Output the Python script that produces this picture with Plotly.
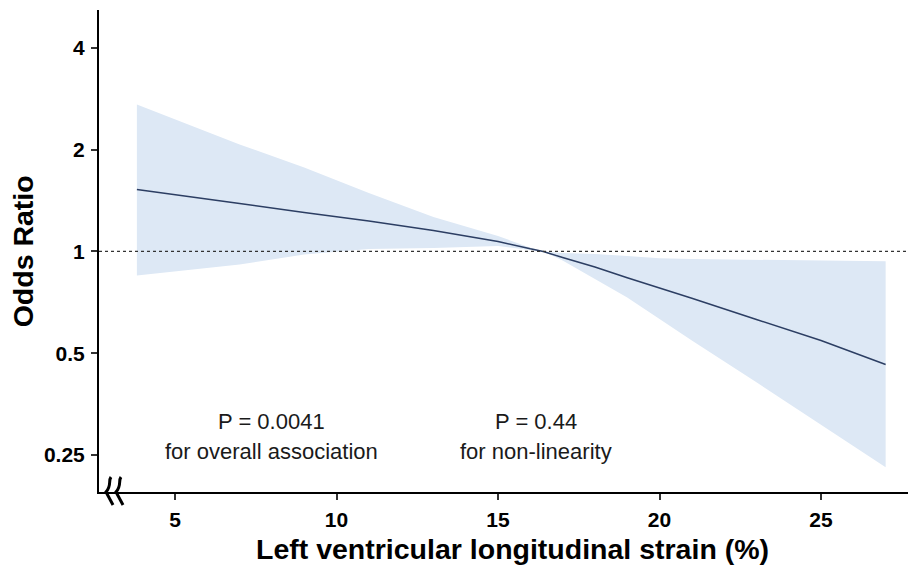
import plotly.graph_objects as go

# Data (restricted cubic spline, OR with 95% CI)
strain = [3.82, 5, 7, 9, 11, 13, 15, 16, 16.4, 17, 18, 19, 20, 21, 23, 25, 27.0]
or_est = [1.525, 1.474, 1.387, 1.304, 1.231, 1.154, 1.070, 1.018, 1.0, 0.959, 0.899, 0.836, 0.780, 0.727, 0.629, 0.545, 0.463]
or_upper = [2.722, 2.461, 2.073, 1.772, 1.490, 1.265, 1.111, 1.025, 1.0, 0.990, 0.983, 0.970, 0.955, 0.949, 0.945, 0.941, 0.936]
or_lower = [0.849, 0.873, 0.915, 0.980, 1.017, 1.024, 1.038, 1.010, 1.0, 0.940, 0.828, 0.731, 0.631, 0.545, 0.410, 0.308, 0.230]

y_ticks = [0.25, 0.5, 1, 2, 4]
y_ticktext = ["0.25", "0.5", "1", "2", "4"]
x_ticks = [5, 10, 15, 20, 25]
x_ticktext = ["5", "10", "15", "20", "25"]

x_title = "Left ventricular longitudinal strain (%)"
y_title = "Odds Ratio"
p_texts = [("P = 0.0041", "for overall association", 8.0),
           ("P = 0.44", "for non-linearity", 16.18)]

FONT = "Liberation Sans, Arial, sans-serif"

fig = go.Figure()

fig.add_trace(go.Scatter(x=strain, y=or_upper, mode="lines", line=dict(width=0),
                         hoverinfo="skip", showlegend=False))
fig.add_trace(go.Scatter(x=strain, y=or_lower, mode="lines", line=dict(width=0),
                         fill="tonexty", fillcolor="rgb(221,232,245)",
                         hoverinfo="skip", showlegend=False))
fig.add_trace(go.Scatter(x=strain, y=or_est, mode="lines",
                         line=dict(color="#2c3e63", width=1.5), showlegend=False))

fig.add_hline(y=1, line=dict(color="#333333", width=1.2, dash="dot"))

font_ann = dict(family=FONT, size=22, color="#1a1a1a")
for top, bottom, xpos in p_texts:
    fig.add_annotation(x=xpos, y=-0.5044, xref="x", yref="y", text=top, showarrow=False,
                       font=font_ann, xanchor="center", yanchor="middle")
    fig.add_annotation(x=xpos, y=-0.5932, xref="x", yref="y", text=bottom, showarrow=False,
                       font=font_ann, xanchor="center", yanchor="middle")

# axis titles
titlefont = dict(family=FONT, size=28.5, color="black")
fig.add_annotation(x=0.5067, y=-0.1183, xref="paper", yref="paper",
                   text="<b>%s</b>" % x_title, showarrow=False, font=titlefont,
                   xanchor="center", yanchor="middle")
fig.add_annotation(x=-0.0920, y=0.499, xref="paper", yref="paper",
                   text="<b>%s</b>" % y_title, showarrow=False, font=titlefont,
                   textangle=-90, xanchor="center", yanchor="middle", borderpad=0)

# axis break symbol (pixel positions relative to the plot area)
def px2p(px, py):
    return (px - 99) / 817.0, (492 - py) / 482.0

for off in (0, 10):
    pts = [px2p(111 + off, 477), px2p(108 + off, 481), px2p(112 + off, 485),
           px2p(106 + off, 492), px2p(113 + off, 505)]
    path = "M {0[0]},{0[1]} C {1[0]},{1[1]} {2[0]},{2[1]} {3[0]},{3[1]} L {4[0]},{4[1]}".format(*pts)
    fig.add_shape(type="path", path=path, xref="paper", yref="paper",
                  line=dict(color="black", width=3))

tickfont = dict(family=FONT, size=21, color="black")

fig.update_layout(
    width=916, height=567,
    margin=dict(l=91, r=8, t=2, b=83),
    paper_bgcolor="white", plot_bgcolor="white",
    xaxis=dict(range=[2.647, 27.94], tickvals=x_ticks,
               ticktext=["<b>%s</b>" % t for t in x_ticktext],
               ticks="outside", ticklen=6,
               tickwidth=2, tickcolor="#333333", showline=True, linecolor="black",
               linewidth=2, showgrid=False, zeroline=False, automargin=False,
               tickfont=tickfont, ticklabelstandoff=2),
    yaxis=dict(type="log", range=[-0.7117, 0.7143], tickvals=y_ticks,
               ticktext=["<b>%s</b>" % t for t in y_ticktext],
               ticks="outside", ticklen=6, tickwidth=2, tickcolor="#333333",
               showline=True, linecolor="black", linewidth=2, showgrid=False,
               zeroline=False, tickfont=tickfont, automargin=False,
               ticklabelstandoff=2),
)

fig.write_html("out.html")
